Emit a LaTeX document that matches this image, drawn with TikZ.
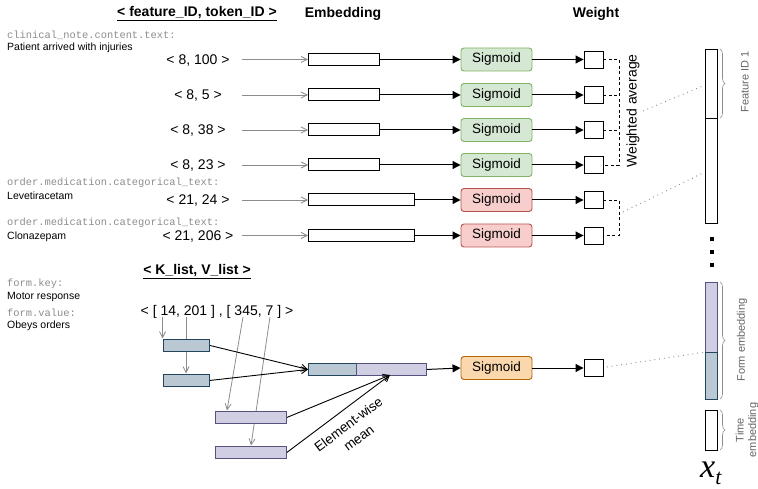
\documentclass[tikz,border=0pt]{standalone}
\usepackage{fontspec}
\setmainfont{Liberation Sans}
\setmonofont{Liberation Mono}
\newfontfamily\serifx{Liberation Serif}
\usetikzlibrary{arrows.meta,decorations.pathreplacing}
\definecolor{greenF}{HTML}{D5E8D4}\definecolor{greenD}{HTML}{82B366}
\definecolor{redF}{HTML}{F8CECC}\definecolor{redD}{HTML}{B85450}
\definecolor{orF}{HTML}{FAD7AC}\definecolor{orD}{HTML}{B46504}
\definecolor{keyF}{HTML}{BAC8D3}\definecolor{keyD}{HTML}{23445D}
\definecolor{valF}{HTML}{D0CEE2}\definecolor{valD}{HTML}{56517E}
\definecolor{grayA}{HTML}{8C8C8C}
\definecolor{grayT}{HTML}{666666}
\begin{document}
\begin{tikzpicture}[x=1pt,y=-1pt,
  titlestyle/.style={font=\fontsize{14}{16}\selectfont\bfseries, inner sep=0},
  lab/.style={font=\fontsize{14}{16}\selectfont, inner sep=0},
  monolab/.style={font=\fontsize{10.4}{12}\selectfont\ttfamily, text=grayA, anchor=west, inner sep=0},
  desc/.style={font=\fontsize{10.5}{12}\selectfont, anchor=west, inner sep=0},
  emb/.style={draw=black, line width=1pt, minimum height=12, inner sep=0, anchor=west},
  sig/.style={draw, rounded corners=3, minimum width=71, minimum height=23, inner sep=0,
              font=\fontsize{13.5}{15}\selectfont, line width=0.9pt},
  wbox/.style={draw, line width=0.9pt, minimum width=19, minimum height=17, inner sep=0},
  garr/.style={draw=grayA, line width=0.8pt, -{Straight Barb[length=6pt,width=6pt]}},
  barr/.style={draw=black, line width=1pt, -{Triangle[length=8pt,width=8pt]}},
  oarr/.style={draw=black, line width=0.9pt, -{Straight Barb[length=6pt,width=7pt]}},
  dashconn/.style={draw=black, line width=0.9pt, dash pattern=on 3pt off 2.5pt},
  dotl/.style={draw=grayA, line width=1pt, dash pattern=on 0.8pt off 4pt},
  bracestyle/.style={draw=grayA, line width=0.6pt, decorate, decoration={brace, amplitude=5pt}},
  sidelab/.style={font=\fontsize{11}{13}\selectfont, text=grayT, rotate=90, inner sep=0, align=center},
  keyr/.style={draw=keyD, fill=keyF, line width=0.9pt, inner sep=0, minimum height=12},
  valr/.style={draw=valD, fill=valF, line width=0.9pt, inner sep=0, minimum height=12},
  dotsq/.style={fill=black, minimum size=3.5, inner sep=0}
]
\useasboundingbox (0,0) rectangle (758,489);

% headers
\node[titlestyle] (h1) at (197,14) {\underline{< feature\_ID, token\_ID >}};
\node[titlestyle] (h2) at (343,14) {Embedding};
\node[titlestyle] (h3) at (596,14) {Weight};

% left descriptions
\node[monolab] (m1) at (7,35) {clinical\_note.content.text:};
\node[desc] (t1) at (7,48) {Patient arrived with injuries};
\node[monolab] (m2) at (7,183) {order.medication.categorical\_text:};
\node[desc] (t2) at (7,196) {Levetiracetam};
\node[monolab] (m3) at (7,223) {order.medication.categorical\_text:};
\node[desc] (t3) at (7,237) {Clonazepam};

% token labels
\node[lab] (l1) at (198,61) {< 8, 100 >};
\node[lab] (l2) at (198,96) {< 8, 5 >};
\node[lab] (l3) at (198,131) {< 8, 38 >};
\node[lab] (l4) at (198,166) {< 8, 23 >};
\node[lab] (l5) at (198,201) {< 21, 24 >};
\node[lab] (l6) at (198,236.5) {< 21, 206 >};

% embeddings
\node[emb, minimum width=71] (e1) at (308,59.5) {};
\node[emb, minimum width=71] (e2) at (308,95) {};
\node[emb, minimum width=71] (e3) at (308,130) {};
\node[emb, minimum width=71] (e4) at (308,165) {};
\node[emb, minimum width=106] (e5) at (308,200) {};
\node[emb, minimum width=106] (e6) at (308,235.5) {};

% sigmoids
\node[sig, fill=greenF, draw=greenD] (s1) at (496.5,59.5) {Sigmoid};
\node[sig, fill=greenF, draw=greenD] (s2) at (496.5,95) {Sigmoid};
\node[sig, fill=greenF, draw=greenD] (s3) at (496.5,130) {Sigmoid};
\node[sig, fill=greenF, draw=greenD] (s4) at (496.5,165) {Sigmoid};
\node[sig, fill=redF, draw=redD] (s5) at (496.5,200) {Sigmoid};
\node[sig, fill=redF, draw=redD] (s6) at (496.5,235.5) {Sigmoid};

% weights
\node[wbox] (w1) at (593.5,59.5) {};
\node[wbox] (w2) at (593.5,95) {};
\node[wbox] (w3) at (593.5,130) {};
\node[wbox] (w4) at (593.5,165) {};
\node[wbox] (w5) at (593.5,200) {};
\node[wbox] (w6) at (593.5,235.5) {};

% gray input arrows
\foreach \i/\y in {1/59.5,2/95,3/130,4/165,5/200,6/235.5}{
  \coordinate (g\i) at (242,\y);
  \draw[garr] (g\i) -- (e\i.west);
  \draw[barr] (e\i.east) -- (s\i.west);
  \draw[barr] (s\i.east) -- (w\i.west);
  \coordinate (d\i) at (619,\y);
}

% dashed weighted-average connectors
\draw[dashconn] (w1.east) -- (d1) -- (d4) -- (w4.east);
\draw[dashconn] (w2.east) -- (d2);
\draw[dashconn] (w3.east) -- (d3);
\draw[dashconn] (w5.east) -- (d5) -- (d6) -- (w6.east);

\node[font=\fontsize{14}{16}\selectfont, rotate=90, inner sep=0] (wa) at (633,111) {Weighted average};

% x_t column
\node[draw, line width=0.9pt, minimum width=12, minimum height=69, inner sep=0, anchor=north west] (f1) at (705,49) {};
\node[draw, line width=0.9pt, minimum width=12, minimum height=105, inner sep=0, anchor=north west] (f2) at (705,118) {};
\coordinate (da) at (643,111);
\coordinate (db) at (623,212);
\coordinate (fa) at (705,85);
\coordinate (fb) at (705,172);
\draw[dotl] (da) -- (fa);
\draw[dotl] (db) -- (fb);
\coordinate (bf1) at (720,49);
\coordinate (bf2) at (720,118);
\draw[bracestyle] (bf1) -- (bf2);
\node[sidelab] (fl) at (745,82) {Feature ID 1};

\node[dotsq] (p1) at (712,239) {};
\node[dotsq] (p2) at (712,252) {};
\node[dotsq] (p3) at (712,265) {};

\node[valr, minimum width=12, minimum height=70, anchor=north west] (fv) at (705,282) {};
\node[keyr, minimum width=12, minimum height=47, anchor=north west] (fk) at (705,352) {};
\coordinate (bg1) at (720,282);
\coordinate (bg2) at (720,399);
\draw[bracestyle] (bg1) -- (bg2);
\node[sidelab] (gl) at (742,340) {Form embedding};

\node[draw, line width=0.9pt, minimum width=12, minimum height=40, inner sep=0, anchor=north west] (te) at (705,410) {};
\coordinate (bt1) at (720,410);
\coordinate (bt2) at (720,450);
\draw[bracestyle] (bt1) -- (bt2);
\node[sidelab, font=\fontsize{11}{12.5}\selectfont] (tl) at (747,430) {Time\\embedding};

\node[inner sep=0, anchor=base west, font=\serifx\itshape\fontsize{34}{36}\selectfont] (xt) at (700,477) {x\raisebox{-0.22em}{\fontsize{22}{22}\selectfont t}};

% bottom part
\node[titlestyle] (h4) at (197,272) {\underline{< K\_list, V\_list >}};
\node[monolab] (m4) at (7,284) {form.key:};
\node[desc] (t4) at (7,297) {Motor response};
\node[monolab] (m5) at (7,313) {form.value:};
\node[desc] (t5) at (7,326) {Obeys orders};

\node[lab] (kv) at (217,312) {< [ 14, 201 ] , [ 345, 7 ] >};

\coordinate (c14) at (162.5,317);
\coordinate (c201) at (186,317);
\coordinate (c345) at (243,317);
\coordinate (c7) at (270,317);
\coordinate (k1t) at (162.5,338.5);
\coordinate (k2t) at (186,373.5);
\coordinate (v1t) at (227,410.5);
\coordinate (v2t) at (251,445.5);
\draw[garr] (c14) -- (k1t);
\draw[garr] (c201) -- (k2t);
\draw[garr] (c345) -- (v1t);
\draw[garr] (c7) -- (v2t);

\node[keyr, minimum width=46, anchor=north west] (k1) at (163,339) {};
\node[keyr, minimum width=46, anchor=north west] (k2) at (163,374) {};
\node[valr, minimum width=71, anchor=north west] (v1) at (215,411) {};
\node[valr, minimum width=71, anchor=north west] (v2) at (215,446) {};

\node[keyr, minimum width=48, anchor=north west] (ck) at (308,363) {};
\node[valr, minimum width=70, anchor=north west] (cv) at (356,363) {};

\coordinate (cvb) at (390,375);
\draw[oarr] (k1.east) -- (ck.west);
\draw[oarr] (k2.east) -- (ck.west);
\draw[oarr] (v1.east) -- (cvb);
\draw[oarr] (v2.east) -- (cvb);

\node[font=\fontsize{13.5}{17}\selectfont, rotate=37, inner sep=0, align=center] (ew) at (353.5,431) {Element-wise\\mean};

\node[sig, fill=orF, draw=orD] (s7) at (496.5,368) {Sigmoid};
\node[wbox] (w7) at (593.5,368) {};
\draw[barr] (cv.east) -- (s7.west);
\draw[barr] (s7.east) -- (w7.west);
\coordinate (dc) at (607,367);
\coordinate (fc) at (705,352);
\draw[dotl] (dc) -- (fc);
\end{tikzpicture}
\end{document}
